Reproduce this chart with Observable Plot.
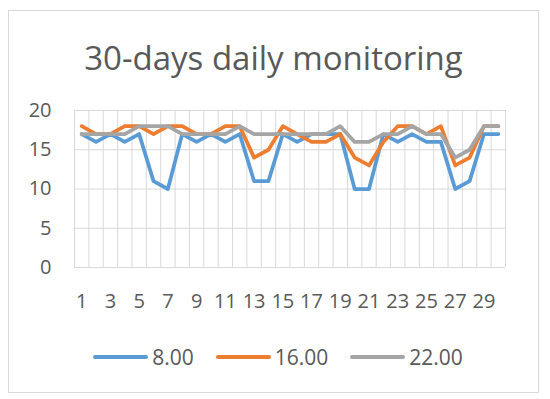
<!DOCTYPE html>
<html>
<head>
<meta charset="utf-8">
<script src="https://cdn.jsdelivr.net/npm/d3@7"></script>
<script src="https://cdn.jsdelivr.net/npm/@observablehq/plot@0.6"></script>
<style>
  body { margin: 0; background: #fff; }
  #wrap { position: relative; width: 550px; height: 399px; overflow: hidden; font-family: "Open Sans", sans-serif; color: #595959; background: #fff; }
  #frame { position: absolute; left: 8px; top: 10px; width: 531px; height: 383px; border: 1px solid #D9D9D9; box-sizing: border-box; }
  #title { position: absolute; left: 8px; width: 531px; top: 38px; text-align: center; font-size: 33px; line-height: 40px; white-space: nowrap; }
  #chart { position: absolute; left: 0; top: 90px; }
  #legend { position: absolute; left: 8px; width: 531px; top: 342px; height: 30px; display: flex; justify-content: center; align-items: center; padding-left: 9px; box-sizing: border-box; font-size: 21px; }
  .item { display: flex; align-items: center; margin: 0 11px; }
  .item svg { margin-right: 4px; }
</style>
</head>
<body>
<div id="wrap">
  <div id="frame"></div>
  <div id="title">30-days daily monitoring</div>
  <div id="chart"></div>
  <div id="legend"></div>
</div>
<script>
const days = [1,2,3,4,5,6,7,8,9,10,11,12,13,14,15,16,17,18,19,20,21,22,23,24,25,26,27,28,29,30];
const s0800 = [17,16,17,16,17,11,10,17,16,17,16,17,11,11,17,16,17,17,17,10,10,17,16,17,16,16,10,11,17,17];
const s1600 = [18,17,17,18,18,17,18,18,17,17,18,18,14,15,18,17,16,16,17,14,13,16,18,18,17,18,13,14,18,18];
const s2200 = [17,17,17,17,18,18,18,17,17,17,17,18,17,17,17,17,17,17,18,16,16,17,17,18,17,17,14,15,18,18];
const seriesNames = ["8.00", "16.00", "22.00"];
const seriesColors = ["#5B9BD5", "#ED7D31", "#A5A5A5"];
const yTicks = [0, 5, 10, 15, 20];
const xTicks = [1, 3, 5, 7, 9, 11, 13, 15, 17, 19, 21, 23, 25, 27, 29];

const seriesValues = [s0800, s1600, s2200];
const data = seriesNames.flatMap((name, k) =>
  days.map((d, i) => ({ day: d, value: seriesValues[k][i], series: name })));
const bandEdges = days.map(d => d - 0.5).concat([days[days.length - 1] + 0.5]);

const chart = Plot.plot({
  width: 550,
  height: 225,
  marginLeft: 74,
  marginRight: 45,
  marginTop: 20,
  marginBottom: 48,
  style: { fontFamily: "Open Sans, sans-serif", fontSize: "20px", color: "#595959", background: "transparent", overflow: "visible" },
  x: { domain: [days[0] - 0.5, days[days.length - 1] + 0.5], ticks: xTicks, tickSize: 0, tickPadding: 26, label: null, tickFormat: d => String(d) },
  y: { domain: [0, 20], ticks: yTicks, tickSize: 0, tickPadding: 23, label: null },
  color: { domain: seriesNames, range: seriesColors },
  marks: [
    Plot.ruleX(bandEdges, { stroke: "#D9D9D9", strokeWidth: 1 }),
    Plot.ruleY(yTicks, { stroke: "#D9D9D9", strokeWidth: 1 }),
    Plot.line(data, { x: "day", y: "value", z: "series", stroke: "series", strokeWidth: 3.75, strokeLinejoin: "round", strokeLinecap: "round" })
  ]
});
document.getElementById("chart").appendChild(chart);

const legend = document.getElementById("legend");
seriesNames.forEach((name, k) => {
  const item = document.createElement("div");
  item.className = "item";
  item.innerHTML = `<svg width="55" height="8"><line x1="2" y1="4" x2="53" y2="4" stroke="${seriesColors[k]}" stroke-width="4" stroke-linecap="round"/></svg><span>${name}</span>`;
  legend.appendChild(item);
});
</script>
</body>
</html>
